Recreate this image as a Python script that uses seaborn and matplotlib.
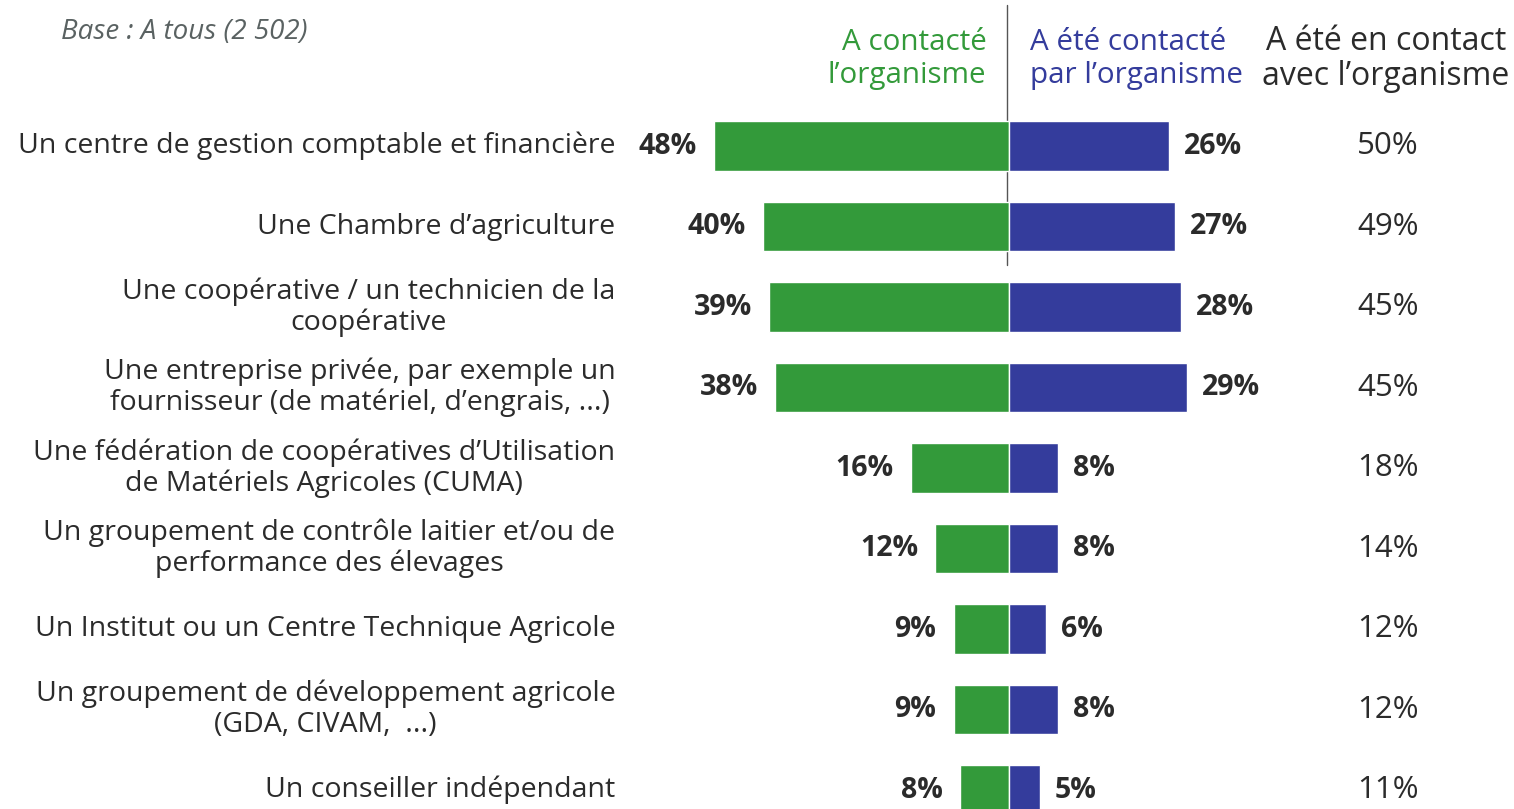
import matplotlib

matplotlib.use('Agg')
import matplotlib.pyplot as plt
import seaborn as sns

# données
categories = [
    "Un centre de gestion comptable et financière",
    "Une Chambre d’agriculture",
    "Une coopérative / un technicien de la\ncoopérative",
    "Une entreprise privée, par exemple un\nfournisseur (de matériel, d’engrais, ...)",
    "Une fédération de coopératives d’Utilisation\nde Matériels Agricoles (CUMA)",
    "Un groupement de contrôle laitier et/ou de\nperformance des élevages",
    "Un Institut ou un Centre Technique Agricole",
    "Un groupement de développement agricole\n(GDA, CIVAM,  ...)",
    "Un conseiller indépendant",
]
a_contacte = [48, 40, 39, 38, 16, 12, 9, 9, 8]
contacte_par = [26, 27, 28, 29, 8, 8, 6, 8, 5]
en_contact = [50, 49, 45, 45, 18, 14, 12, 12, 11]

GREEN = "#339a3a"
BLUE = "#343c9c"
DARK = "#2b2b2b"

sns.set_style("white")
plt.rcParams['font.family'] = ['Open Sans', 'DejaVu Sans']

fig = plt.figure(figsize=(15.14, 8.09), dpi=100)
ax = fig.add_axes([0, 0, 1, 1])

sns.barplot(x=[-v for v in a_contacte], y=categories, color=GREEN, saturation=1,
            width=0.62, orient='h', ax=ax, zorder=2)
sns.barplot(x=contacte_par, y=categories, color=BLUE, saturation=1,
            width=0.62, orient='h', ax=ax, zorder=2)

# échelle : ~6.15 px par point, axe central à x=1009 px
ax.set_xlim(-164.07, 82.11)
ax.set_ylim(8.236, -1.814)
ax.axis('off')

# trait vertical central
ax.plot([-0.4, -0.4], [-1.75, 1.48], color="#555555", lw=1, zorder=1)

for i, cat in enumerate(categories):
    ax.text(-64, i, cat, ha='right', va='center', multialignment='center',
            fontsize=20.5, color=DARK, linespacing=1.12)
    ax.text(-a_contacte[i] - 2.8, i, f"{a_contacte[i]}%", ha='right', va='center',
            fontsize=20.5, fontweight='bold', color=DARK)
    ax.text(contacte_par[i] + 2.4, i, f"{contacte_par[i]}%", ha='left', va='center',
            fontsize=20.5, fontweight='bold', color=DARK)
    ax.text(61.6, i, f"{en_contact[i]}%", ha='center', va='center',
            fontsize=22.5, color=DARK)

# en-têtes de colonnes
ax.text(-3.7, -1.08, "A contacté\nl’organisme", ha='right', va='center',
        multialignment='right', fontsize=21.3, color=GREEN, linespacing=1.15)
ax.text(3.4, -1.08, "A été contacté\npar l’organisme", ha='left', va='center',
        multialignment='left', fontsize=21.3, color=BLUE, linespacing=1.15)
ax.text(61.3, -1.08, "A été en contact\navec l’organisme", ha='center', va='center',
        multialignment='center', fontsize=23, color=DARK, linespacing=1.08)

ax.text(-154.2, -1.416, "Base : A tous (2 502)", ha='left', va='center',
        fontsize=20, style='italic', color="#5a6262")

fig.savefig("out.png", dpi=100)
plt.close(fig)
